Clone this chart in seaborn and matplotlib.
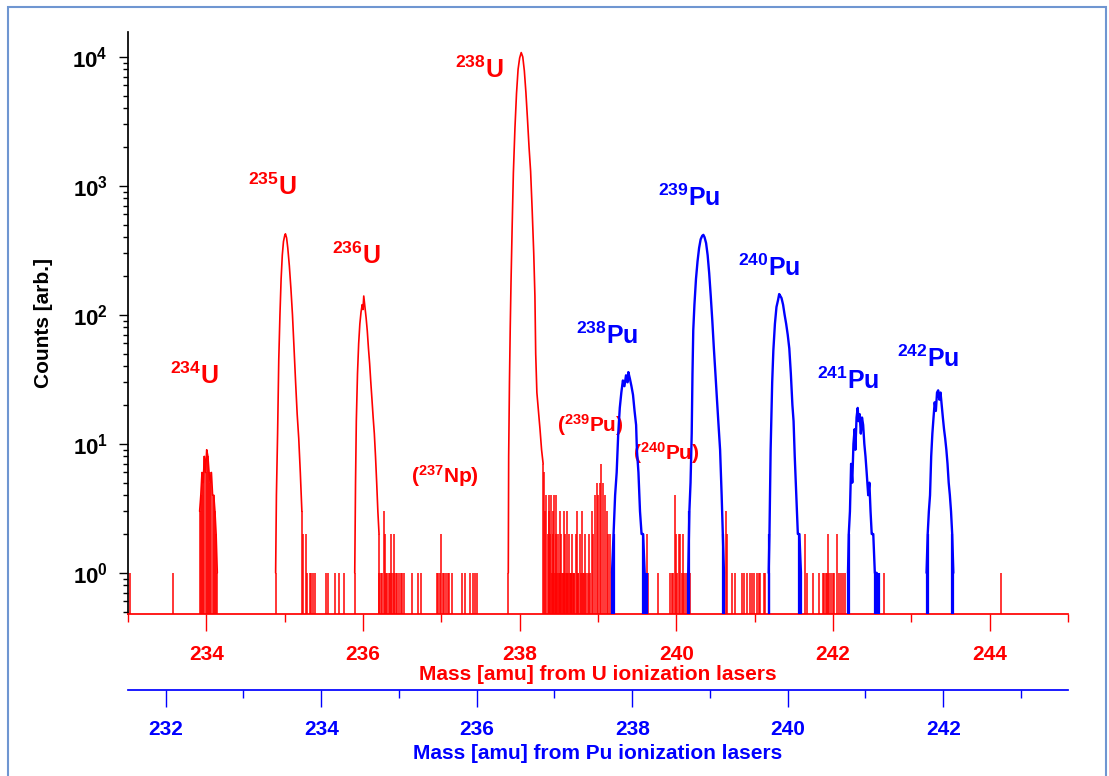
import matplotlib
matplotlib.use("Agg")
import matplotlib.pyplot as plt
from matplotlib.patches import Rectangle
from matplotlib.ticker import FixedLocator, MultipleLocator, LogLocator, NullFormatter
import seaborn as sns
import pandas as pd

# ---- U ionization spectrum (mass on U axis, counts) ----
u234_mass = [233.915, 233.93, 233.945, 233.96, 233.975, 233.99, 234.005, 234.02,
             234.035, 234.05, 234.065, 234.08, 234.095, 234.11, 234.125, 234.14]
u234_counts = [3, 4, 6, 5, 8, 6, 9, 8, 6, 5, 6, 4, 4, 3, 2, 1]

u235_mass = [234.885, 234.895, 234.91, 234.925, 234.94, 234.955, 234.97, 234.985, 235.0,
             235.01, 235.025, 235.04, 235.06, 235.08, 235.10, 235.12, 235.14, 235.16,
             235.18, 235.20, 235.22]
u235_counts = [1, 4, 12, 45, 100, 190, 290, 370, 410, 425, 395, 330, 240, 160, 100, 55,
               30, 17, 11, 6, 3]

u236_mass = [235.895, 235.905, 235.915, 235.93, 235.945, 235.96, 235.975, 235.99, 236.0,
             236.01, 236.025, 236.04, 236.055, 236.07, 236.085, 236.10, 236.115, 236.13,
             236.145, 236.16, 236.175, 236.19, 236.205]
u236_counts = [1, 5, 15, 35, 60, 85, 105, 120, 110, 140, 115, 95, 75, 55, 42, 30, 22, 16,
               12, 8, 5, 3, 2]

u238_mass = [237.855, 237.86, 237.87, 237.88, 237.89, 237.905, 237.92, 237.94, 237.96,
             237.98, 238.0, 238.02, 238.04, 238.06, 238.08, 238.10, 238.12, 238.14,
             238.16, 238.18, 238.195, 238.205, 238.22, 238.24, 238.26, 238.28, 238.30]
u238_counts = [1, 8, 30, 80, 180, 500, 1260, 2800, 5200, 8000, 9800, 10800, 10000, 7800,
               5300, 3300, 2000, 1300, 650, 300, 140, 50, 25, 18, 13, 9, 7]

# isolated counts (noise, 237Np, 239Pu/240Pu interferences) on the U spectrum
u_spike_mass = [233.03, 233.58,
                235.24, 235.27, 235.29, 235.32, 235.34, 235.36, 235.39,
                235.53, 235.55, 235.64, 235.69, 235.76,
                236.21, 236.23, 236.24, 236.265, 236.275, 236.29, 236.31, 236.33, 236.345,
                236.36, 236.37, 236.39, 236.40, 236.42, 236.44, 236.46, 236.48, 236.50,
                236.52, 236.62, 236.70, 236.74,
                236.94, 236.96, 236.98, 237.00, 237.02, 237.04, 237.06, 237.08, 237.10,
                237.14, 237.26, 237.30, 237.37, 237.41, 237.43, 237.45,
                238.31, 238.33, 238.34, 238.36, 238.37, 238.38, 238.39, 238.40, 238.41,
                238.42, 238.43, 238.44, 238.45, 238.46, 238.47, 238.48, 238.49, 238.50,
                238.51, 238.52, 238.53, 238.54, 238.55, 238.56, 238.57, 238.58, 238.59,
                238.60, 238.61, 238.62, 238.63, 238.64, 238.65, 238.66, 238.67, 238.68,
                238.69, 238.70, 238.72, 238.73, 238.74, 238.75, 238.77, 238.78, 238.80,
                238.81, 238.82, 238.84, 238.85, 238.87, 238.88, 238.90,
                238.92, 238.94, 238.964, 238.985, 239.006, 239.028, 239.04, 239.062,
                239.09, 239.113, 239.134, 239.155, 239.177,
                239.62, 239.64, 239.77, 239.92, 239.94, 239.96, 239.986, 240.0, 240.01,
                240.03, 240.05, 240.07, 240.08, 240.10, 240.12, 240.15, 240.18,
                240.638, 240.65, 240.711, 240.753, 240.839, 240.859, 240.903, 240.936,
                240.967, 240.987, 241.03, 241.05, 241.07, 241.115, 241.137, 241.179,
                241.584, 241.648, 241.67, 241.747, 241.819, 241.875, 241.891, 241.913,
                241.926, 241.938, 241.955, 241.977, 241.997, 242.019, 242.053, 242.074,
                242.104, 242.13, 242.159, 242.649, 244.14]
u_spike_counts = [1, 1,
                  2, 2, 1, 1, 1, 1, 1,
                  1, 1, 1, 1, 1,
                  1, 1, 1, 3, 2, 1, 1, 1, 1,
                  2, 1, 1, 2, 1, 1, 1, 1, 1,
                  1, 1, 1, 1,
                  1, 1, 1, 2, 1, 1, 1, 1, 1,
                  1, 1, 1, 1, 1, 1, 1,
                  6, 3, 4, 2, 4, 3, 2, 4, 1,
                  3, 2, 4, 1, 2, 4, 1, 2, 1,
                  3, 1, 2, 1, 1, 3, 1, 2, 1,
                  3, 1, 1, 2, 1, 1, 1, 2, 1,
                  1, 1, 2, 3, 1, 1, 2, 1, 3,
                  1, 1, 2, 1, 1, 2, 1,
                  3, 2, 4, 5, 4, 5, 7, 5,
                  4, 3, 2, 2, 1,
                  2, 1, 1, 1, 1, 1, 4, 2, 1,
                  2, 2, 1, 2, 1, 1, 1, 1,
                  3, 2, 1, 1, 1, 1, 1, 1,
                  1, 1, 1, 1, 1, 1, 1, 2,
                  1, 2, 1, 1, 1, 1, 1, 1,
                  1, 2, 1, 1, 1, 1, 2, 1,
                  1, 1, 1, 1, 1]

# ---- Pu ionization spectrum (mass on Pu axis, counts) ----
pu238_mass = [237.74, 237.76, 237.78, 237.80, 237.82, 237.84, 237.86, 237.88, 237.90,
              237.92, 237.94, 237.95, 237.97, 237.99, 238.01, 238.03, 238.05, 238.06,
              238.08, 238.10, 238.12, 238.14, 238.16]
pu238_counts = [1, 2, 4, 6, 12, 19, 25, 31, 28, 34, 30, 36, 32, 28, 24, 18, 14, 9, 6, 3,
                2, 2, 1]

pu239_mass = [238.72, 238.735, 238.75, 238.765, 238.775, 238.785, 238.80, 238.82, 238.84,
              238.86, 238.88, 238.90, 238.915, 238.93, 238.95, 238.97, 238.99, 239.01,
              239.03, 239.05, 239.07, 239.09, 239.11, 239.13, 239.15, 239.165, 239.18]
pu239_counts = [1, 3, 5, 12, 35, 76, 120, 190, 260, 330, 385, 410, 417, 400, 360, 290, 210,
                140, 90, 55, 35, 22, 14, 9, 4, 2, 1]

pu240_mass = [239.755, 239.765, 239.78, 239.80, 239.815, 239.835, 239.855, 239.875, 239.89,
              239.905, 239.92, 239.94, 239.96, 239.98, 240.00, 240.02, 240.04, 240.06,
              240.075, 240.09, 240.11, 240.13, 240.15, 240.17]
pu240_counts = [1, 2, 9, 30, 53, 85, 115, 130, 145, 140, 135, 120, 100, 85, 70, 55, 35, 20,
                15, 8, 4, 2, 2, 1]

pu241_mass = [240.775, 240.785, 240.80, 240.815, 240.83, 240.845, 240.86, 240.87, 240.885,
              240.90, 240.91, 240.925, 240.94, 240.955, 240.97, 240.985, 241.00, 241.015,
              241.035, 241.05, 241.065, 241.08, 241.10, 241.12, 241.145]
pu241_counts = [1, 2, 3, 7, 5, 10, 13, 9, 16, 19, 15, 17, 12, 16, 14, 10, 8, 6, 4, 5, 3, 2,
                2, 1, 1]

pu242_mass = [241.785, 241.80, 241.815, 241.83, 241.845, 241.86, 241.875, 241.89, 241.905,
              241.92, 241.935, 241.95, 241.965, 241.98, 241.995, 242.01, 242.025, 242.04,
              242.055, 242.07, 242.085, 242.10, 242.115, 242.13]
pu242_counts = [1, 2, 3, 4, 8, 12, 16, 21, 18, 25, 26, 22, 25, 20, 16, 13, 11, 9, 7, 5, 4,
                3, 2, 1]

pu_spike_mass = [238.19, 241.18]
pu_spike_counts = [1, 1]

u_ticks = [234, 236, 238, 240, 242, 244]
pu_ticks = [232, 234, 236, 238, 240, 242]
y_ticks = [1, 10, 100, 1000, 10000]
y_ticklabels = [r"$\mathbf{10^{0}}$", r"$\mathbf{10^{1}}$", r"$\mathbf{10^{2}}$",
                r"$\mathbf{10^{3}}$", r"$\mathbf{10^{4}}$"]

u_df = pd.concat([
    pd.DataFrame({"mass": m, "counts": c, "peak": name})
    for name, m, c in [("234U", u234_mass, u234_counts), ("235U", u235_mass, u235_counts),
                       ("236U", u236_mass, u236_counts), ("238U", u238_mass, u238_counts)]
])
pu_df = pd.concat([
    pd.DataFrame({"mass": m, "counts": c, "peak": name})
    for name, m, c in [("238Pu", pu238_mass, pu238_counts), ("239Pu", pu239_mass, pu239_counts),
                       ("240Pu", pu240_mass, pu240_counts), ("241Pu", pu241_mass, pu241_counts),
                       ("242Pu", pu242_mass, pu242_counts)]
])

sns.set_theme(style="ticks")
plt.rcParams["font.family"] = ["Liberation Sans", "DejaVu Sans"]
plt.rcParams["mathtext.fontset"] = "custom"
plt.rcParams["mathtext.rm"] = "Liberation Sans"
plt.rcParams["mathtext.bf"] = "Liberation Sans:bold"
plt.rcParams["mathtext.it"] = "Liberation Sans:italic"
plt.rcParams["text.color"] = "black"
plt.rcParams["axes.labelcolor"] = "black"
plt.rcParams["ytick.color"] = "black"

RED = "#ff0000"
BLUE = "#0000ff"

fig = plt.figure(figsize=(11.09, 7.76), dpi=100)
ax = fig.add_axes([0.1154, 0.2088, 0.8476, 0.75])
ax.set_yscale("log")
ax.set_xlim(233, 245)
ax.set_ylim(0.48, 15600)
ybot = ax.get_ylim()[0]

# Pu axis drawn below the U axis
ax2 = ax.twiny()
ax2.set_xlim(231.515, 243.604)

# U spectrum
sns.lineplot(data=u_df, x="mass", y="counts", units="peak", estimator=None, sort=False,
             color=RED, lw=1.2, ax=ax, legend=False)
ax.vlines(u_spike_mass, ybot, u_spike_counts, color=RED, lw=1.1)
ax.vlines(u234_mass, ybot, u234_counts, color=RED, lw=1.1)
for m, c in [(u235_mass, u235_counts), (u236_mass, u236_counts), (u238_mass, u238_counts)]:
    ax.vlines([m[0], m[-1]], ybot, [c[0], c[-1]], color=RED, lw=1.1)

# Pu spectrum
sns.lineplot(data=pu_df, x="mass", y="counts", units="peak", estimator=None, sort=False,
             color=BLUE, lw=1.7, ax=ax2, legend=False)
ax2.vlines(pu_spike_mass, ybot, pu_spike_counts, color=BLUE, lw=1.6)
for m, c in [(pu238_mass, pu238_counts), (pu239_mass, pu239_counts), (pu240_mass, pu240_counts),
             (pu241_mass, pu241_counts), (pu242_mass, pu242_counts)]:
    ax2.vlines([m[0], m[1], m[-2], m[-1]], ybot, [c[0], c[1], c[-2], c[-1]], color=BLUE, lw=1.6)

# spines / axes styling
ax.spines["top"].set_visible(False)
ax.spines["right"].set_visible(False)
ax.spines["left"].set_color("black")
ax.spines["bottom"].set_color(RED)
for s in ["top", "right", "left"]:
    ax2.spines[s].set_visible(False)
ax2.spines["bottom"].set_visible(True)
ax2.spines["bottom"].set_position(("outward", 54.7))
ax2.spines["bottom"].set_color(BLUE)
ax2.xaxis.set_ticks_position("bottom")
ax2.xaxis.set_label_position("bottom")

ax.xaxis.set_major_locator(FixedLocator(u_ticks))
ax.xaxis.set_minor_locator(MultipleLocator(1))
ax2.xaxis.set_major_locator(FixedLocator(pu_ticks))
ax2.xaxis.set_minor_locator(MultipleLocator(1))

ax.tick_params(axis="x", which="major", length=12, width=1, color=RED, labelcolor=RED,
               labelsize=15, pad=10)
ax.tick_params(axis="x", which="minor", length=6, width=1, color=RED)
ax2.tick_params(axis="x", which="major", length=12, width=1, color=BLUE, labelcolor=BLUE,
                labelsize=15, pad=10)
ax2.tick_params(axis="x", which="minor", length=6, width=1, color=BLUE)

ax.yaxis.set_major_locator(FixedLocator(y_ticks))
ax.set_yticklabels(y_ticklabels)
ax.yaxis.set_minor_locator(LogLocator(base=10, subs=range(2, 10), numticks=20))
ax.yaxis.set_minor_formatter(NullFormatter())
ax.tick_params(axis="y", which="major", length=6.5, width=1, color="black",
               labelcolor="black", labelsize=16, pad=8)
ax.tick_params(axis="y", which="minor", length=3.6, width=1, color="black")

for lbl in ax.get_xticklabels() + ax2.get_xticklabels():
    lbl.set_fontweight("bold")

ax.set_xlabel("Mass [amu] from U ionization lasers", color=RED, fontsize=15,
              fontweight="bold", labelpad=1)
ax2.set_xlabel("Mass [amu] from Pu ionization lasers", color=BLUE, fontsize=15,
               fontweight="bold", labelpad=3)
ax.set_ylabel("Counts [arb.]", fontsize=15, fontweight="bold", labelpad=14, color="black")

# peak labels
red_labels = [(233.85, 34, r"$^{\mathbf{234}}$U", 18), (234.84, 980, r"$^{\mathbf{235}}$U", 18),
              (235.91, 286, r"$^{\mathbf{236}}$U", 18), (237.49, 7900, r"$^{\mathbf{238}}$U", 18),
              (237.05, 5.6, r"($^{\mathbf{237}}$Np)", 15),
              (238.9, 14, r"($^{\mathbf{239}}$Pu)", 15),
              (239.87, 8.5, r"($^{\mathbf{240}}$Pu)", 15)]
blue_labels = [(239.12, 69, r"$^{\mathbf{238}}$Pu"), (240.16, 807, r"$^{\mathbf{239}}$Pu"),
               (241.19, 231, r"$^{\mathbf{240}}$Pu"), (242.2, 31, r"$^{\mathbf{241}}$Pu"),
               (243.22, 46, r"$^{\mathbf{242}}$Pu")]
for x, y, s, fs in red_labels:
    ax.text(x, y, s, color=RED, fontsize=fs, fontweight="bold", ha="center", va="center")
for x, y, s in blue_labels:
    ax.text(x, y, s, color=BLUE, fontsize=18, fontweight="bold", ha="center", va="center")

# outer frame
fig.patches.append(Rectangle((8 / 1109, -0.05), (1106 - 8) / 1109, (776 - 7) / 776 + 0.05,
                             transform=fig.transFigure, fill=False, edgecolor="#6f96d1",
                             lw=1.5))

fig.savefig("out.png", dpi=100)
